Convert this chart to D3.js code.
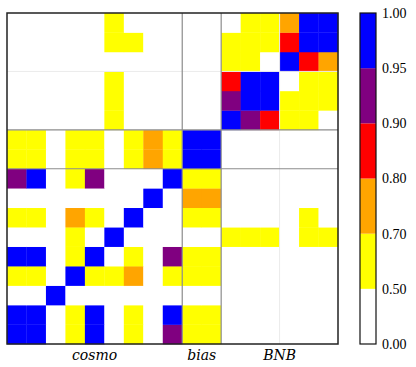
<!doctype html>
<html>
  <head>
    <meta charset="utf-8">
    <title>correlation matrix</title>
    <script src="https://d3js.org/d3.v7.min.js"></script>
    <style type="text/css">
      body { margin: 0; background-color: #ffffff }
      svg { display: block }
    </style>
  </head>
  <body>
    <script>
      // parameter blocks (bottom-left origin, like pcolor)
      var groupNames = ["cosmo", "bias", "BNB"];
      var groupSizes = [9, 2, 6];
      var subLines = [14];   // faint split inside BNB block

      // lower triangle of |correlation|, row j holds columns 0..j
      var corrLower = [
        [1.00],
        [0.98, 1.00],
        [0.10, 0.12, 1.00],
        [0.62, 0.60, 0.08, 1.00],
        [0.97, 0.98, 0.11, 0.63, 1.00],
        [0.21, 0.25, 0.05, 0.58, 0.30, 1.00],
        [0.58, 0.61, 0.09, 0.74, 0.66, 0.35, 1.00],
        [0.15, 0.18, 0.04, 0.22, 0.27, 0.12, 0.31, 1.00],
        [0.93, 0.96, 0.13, 0.60, 0.92, 0.28, 0.45, 0.20, 1.00],
        [0.61, 0.63, 0.07, 0.64, 0.66, 0.24, 0.59, 0.76, 0.62, 1.00],
        [0.60, 0.62, 0.07, 0.63, 0.65, 0.23, 0.58, 0.75, 0.61, 0.99, 1.00],
        [0.10, 0.12, 0.03, 0.20, 0.15, 0.57, 0.25, 0.08, 0.14, 0.30, 0.31, 1.00],
        [0.09, 0.11, 0.02, 0.22, 0.14, 0.55, 0.28, 0.06, 0.12, 0.33, 0.32, 0.93, 1.00],
        [0.08, 0.10, 0.02, 0.19, 0.13, 0.56, 0.30, 0.07, 0.11, 0.29, 0.30, 0.86, 0.97, 1.00],
        [0.05, 0.06, 0.01, 0.12, 0.08, 0.40, 0.20, 0.04, 0.07, 0.18, 0.19, 0.62, 0.58, 0.45, 1.00],
        [0.07, 0.08, 0.02, 0.16, 0.11, 0.60, 0.52, 0.05, 0.09, 0.26, 0.27, 0.66, 0.64, 0.61, 0.84, 1.00],
        [0.06, 0.07, 0.02, 0.14, 0.10, 0.54, 0.42, 0.05, 0.08, 0.22, 0.23, 0.48, 0.61, 0.57, 0.73, 0.97, 1.00]
      ];

      // colour levels
      var levelLabels = ["0.00", "0.50", "0.70", "0.80", "0.90", "0.95", "1.00"];
      var levelBounds = [0.50, 0.70, 0.80, 0.90, 0.95];
      var levelColors = ["#ffffff", "#ffff00", "#ffa500", "#ff0000", "#800080", "#0000ff"];

      var w = 416, h = 367;
      var mLeft = 7, mTop = 13, size = 331;
      var cbX = 360, cbW = 16;

      var n = corrLower.length;
      var cells = [];
      for (var j = 0; j < n; j++) {
        for (var i = 0; i < n; i++) {
          var v = i <= j ? corrLower[j][i] : corrLower[i][j];
          cells.push({ i: i, j: j, v: v });
        }
      }

      var x = d3.scaleLinear().domain([0, n]).range([mLeft, mLeft + size]);
      var y = d3.scaleLinear().domain([0, n]).range([mTop + size, mTop]);

      var color = d3.scaleThreshold()
        .domain(levelBounds)
        .range(levelColors);

      var svg = d3.select("body").append("svg")
        .attr("width", w)
        .attr("height", h);

      // cells
      svg.append("g").selectAll("rect")
        .data(cells)
        .enter()
        .append("rect")
        .attr("x", function(d) { return x(d.i); })
        .attr("y", function(d) { return y(d.j + 1); })
        .attr("width", x(1) - x(0) + 0.3)
        .attr("height", y(0) - y(1) + 0.3)
        .style("fill", function(d) { return color(d.v); });

      // block boundaries
      var edges = [];
      var acc = 0;
      groupSizes.forEach(function(s) { acc += s; edges.push(acc); });
      var inner = edges.slice(0, -1);

      var lines = svg.append("g");
      subLines.forEach(function(k) {
        lines.append("line").attr("x1", x(k)).attr("x2", x(k))
          .attr("y1", y(0)).attr("y2", y(n))
          .style("stroke", "#ebebeb").style("stroke-width", 1);
        lines.append("line").attr("y1", y(k)).attr("y2", y(k))
          .attr("x1", x(0)).attr("x2", x(n))
          .style("stroke", "#ebebeb").style("stroke-width", 1);
      });
      inner.forEach(function(k) {
        lines.append("line").attr("x1", x(k)).attr("x2", x(k))
          .attr("y1", y(0)).attr("y2", y(n))
          .style("stroke", "#8c8c8c").style("stroke-width", 1.2);
        lines.append("line").attr("y1", y(k)).attr("y2", y(k))
          .attr("x1", x(0)).attr("x2", x(n))
          .style("stroke", "#8c8c8c").style("stroke-width", 1.2);
      });

      // frame
      svg.append("rect")
        .attr("x", mLeft).attr("y", mTop)
        .attr("width", size).attr("height", size)
        .style("fill", "none")
        .style("stroke", "#222")
        .style("stroke-width", 1.5);

      // group labels
      var starts = [0].concat(inner);
      svg.append("g").selectAll("text")
        .data(groupNames)
        .enter()
        .append("text")
        .attr("x", function(d, k) { return x(starts[k] + groupSizes[k] / 2); })
        .attr("y", 360)
        .attr("text-anchor", "middle")
        .style("font-family", "'DejaVu Serif', serif")
        .style("font-style", "italic")
        .style("font-size", "14px")
        .text(function(d) { return d; });

      // colorbar: equal-height segments per level
      var cy = d3.scalePoint().domain(levelLabels).range([mTop + size, mTop]);
      var cb = svg.append("g");
      cb.selectAll("rect")
        .data(levelColors)
        .enter()
        .append("rect")
        .attr("x", cbX)
        .attr("y", function(d, k) { return cy(levelLabels[k + 1]); })
        .attr("width", cbW)
        .attr("height", function(d, k) { return cy(levelLabels[k]) - cy(levelLabels[k + 1]); })
        .style("fill", function(d) { return d; });
      cb.append("rect")
        .attr("x", cbX).attr("y", mTop)
        .attr("width", cbW).attr("height", size)
        .style("fill", "none")
        .style("stroke", "#111")
        .style("stroke-width", 1.2);

      var axis = svg.append("g")
        .attr("transform", "translate(" + (cbX + cbW) + ",0)")
        .call(d3.axisRight(cy).tickSize(0).tickPadding(6));
      axis.select(".domain").remove();
      axis.selectAll("text")
        .style("font-family", "'Liberation Serif', serif")
        .style("font-size", "14px")
        .style("fill", "#000");
    </script>
  </body>
</html>
